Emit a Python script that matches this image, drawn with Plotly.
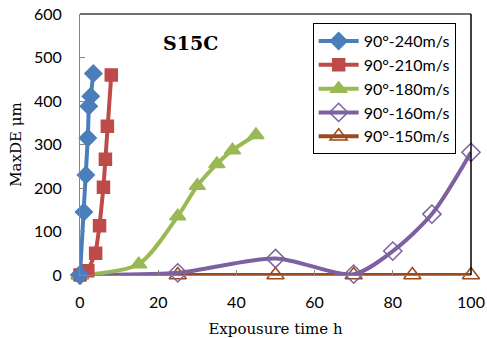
import plotly.graph_objects as go

# data
t240 = [0, 1, 1.5, 2, 2.25, 2.75, 3.4]
v240 = [0, 145, 230, 315, 388, 411, 463]
t210 = [0, 2, 4, 5, 6, 6.5, 7, 8]
v210 = [0, 10, 50, 113, 202, 266, 342, 460]
t180 = [0, 15, 25, 30, 35, 39, 45]
v180 = [0, 25, 135, 205, 255, 287, 322]
t160 = [0, 25, 50, 70, 80, 90, 100]
v160 = [0, 5, 38, 2, 55, 140, 282]
t150 = [0, 25, 50, 70, 85, 100]
v150 = [0, 0, 0, 0, 0, 0]

names = ["90°-240m/s", "90°-210m/s", "90°-180m/s", "90°-160m/s", "90°-150m/s"]
colors = ["#4A7EBB", "#BE4B48", "#98B954", "#7D60A0", "#9A4A1E"]

fig = go.Figure()
specs = [
    (t240, v240, "diamond", 13, "linear"),
    (t210, v210, "square", 12, "linear"),
    (t180, v180, "triangle-up", 14, "spline"),
    (t160, v160, "diamond-open", 14, "spline"),
    (t150, v150, "triangle-up-open", 15, "linear"),
]
for i in range(4, -1, -1):
    x, y, sym, sz, shape = specs[i]
    fig.add_trace(go.Scatter(
        x=x, y=y, name=names[i], mode="lines+markers",
        line=dict(color=colors[i], width=4, shape=shape, smoothing=0.8),
        marker=dict(symbol=sym, size=sz, color=colors[i],
                    line=dict(color=colors[i], width=1.5)),
        cliponaxis=False,
    ))

fig.update_layout(
    width=487, height=338,
    margin=dict(l=80, r=16, t=14, b=63),
    plot_bgcolor="white", paper_bgcolor="white",
    showlegend=True,
    legend=dict(x=0.595, y=0.965, xanchor="left", yanchor="top",
                bordercolor="black", borderwidth=1, bgcolor="white",
                traceorder="reversed",
                font=dict(family="Lato", size=16, color="black"),
                tracegroupgap=0, itemwidth=40),
    font=dict(family="Lato", size=15, color="black"),
)
fig.update_xaxes(range=[0, 100], dtick=20, ticks="inside", ticklen=5, tickcolor="#868686",
                 showline=True, linecolor="#868686", linewidth=1, showgrid=False, zeroline=False,
                 tickfont=dict(family="Lato", size=16), ticklabelstandoff=13, automargin=False,
                 title=dict(text="Expousure time h", font=dict(family="DejaVu Serif", size=15), standoff=14))
fig.update_yaxes(range=[0, 600], dtick=100, ticks="inside", ticklen=5, tickcolor="#868686",
                 showline=True, linecolor="#868686", linewidth=1, showgrid=False, zeroline=False,
                 tickfont=dict(family="Lato", size=16), ticklabelstandoff=14, automargin=False,
                 title=dict(text="MaxDE μm", font=dict(family="DejaVu Serif", size=15), standoff=8))
fig.add_shape(type="line", xref="paper", yref="paper", x0=0, x1=1, y0=1, y1=1,
              line=dict(color="#404040", width=1.5))
fig.add_shape(type="line", xref="paper", yref="paper", x0=1, x1=1, y0=0, y1=1,
              line=dict(color="black", width=1.5))
fig.add_annotation(text="<b>S15C</b>", xref="paper", yref="paper", x=0.283, y=0.888,
                   xanchor="center", yanchor="middle",
                   showarrow=False, font=dict(family="DejaVu Serif", size=19, color="black"))

fig.write_html("out.html")
